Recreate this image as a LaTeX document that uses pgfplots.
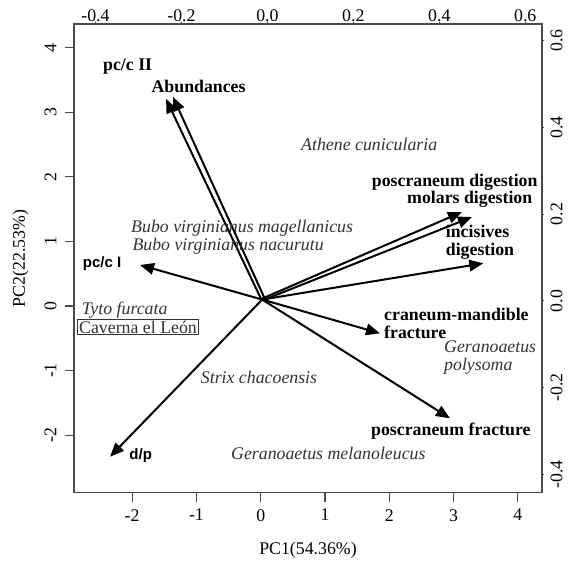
\documentclass[border=0pt]{standalone}
\usepackage{pgfplots}
\pgfplotsset{compat=1.18}
\usepackage{fontspec}
\setmainfont{Liberation Serif}
\setsansfont{Liberation Sans}
\usetikzlibrary{arrows.meta}
\newcommand\lf{\fontsize{17.8bp}{17.7bp}\selectfont}
\newcommand\sflab{\fontsize{15bp}{18bp}\selectfont\sffamily\bfseries}
\definecolor{boxgray}{HTML}{4a4a4a}
\definecolor{txtgray}{HTML}{333333}
\begin{document}
\begin{tikzpicture}
\begin{axis}[name=ax, scale only axis, width=468bp, height=468.7bp,
  xmin=-2.904, xmax=4.375, ymin=-2.891, ymax=4.367, clip=false,
  tick pos=left, tick align=outside, major tick length=9bp,
  xtick={-2,-1,0,1,2,3,4}, xticklabels={-2,-1,0,1,2,3,4},
  ytick={-2,-1,0,1,2,3,4}, yticklabels={-2,-1,0,1,2,3,4},
  xticklabel style={yshift=-4bp},
  yticklabel style={rotate=90, anchor=south, yshift=5bp},
  ticklabel style={font=\lf},
  every tick/.style={boxgray, line width=1.2bp},
  axis line style={boxgray, line width=1.4bp},
  xlabel={PC1(54.36\%)}, ylabel={PC2(22.53\%)},
  xlabel style={yshift=-14bp}, ylabel style={yshift=9bp},
  label style={font=\lf},
  arr/.style={black, line width=2bp, -{Triangle[length=14bp,width=11.5bp]}},
]
% arrows (origin at loading 0,0)
\addplot[arr] coordinates {(0.010,0.100) (-1.473,3.206)};
\addplot[arr] coordinates {(0.065,0.110) (-1.364,3.237)};
\addplot[arr] coordinates {(0.023,0.100) (-1.877,0.635)};
\addplot[arr] coordinates {(0.023,0.115) (3.130,1.456)};
\addplot[arr] coordinates {(0.023,0.085) (3.286,1.378)};
\addplot[arr] coordinates {(0.023,0.100) (3.462,0.661)};
\addplot[arr] coordinates {(0.023,0.100) (1.855,-0.423)};
\addplot[arr] coordinates {(0.023,0.100) (2.944,-1.739)};
\addplot[arr] coordinates {(0.023,0.100) (-2.344,-2.334)};
% variable labels
\node[anchor=west, inner sep=0, font=\lf\bfseries] at (axis cs:-2.453,3.701) {pc/c II};
\node[anchor=west, inner sep=0, font=\lf\bfseries] at (axis cs:-1.700,3.396) {Abundances};
\node[anchor=west, inner sep=0, font=\lf\bfseries] at (axis cs:1.726,1.910) {poscraneum digestion};
\node[anchor=west, inner sep=0, font=\lf\bfseries] at (axis cs:2.275,1.652) {molars digestion};
\node[anchor=west, inner sep=0, font=\lf\bfseries, align=left] at (axis cs:2.877,0.985) {incisives\\digestion};
\node[anchor=west, inner sep=0, font=\sflab] at (axis cs:-2.768,0.650) {pc/c I};
\node[anchor=west, inner sep=0, font=\sflab] at (axis cs:-2.044,-2.323) {d/p};
\node[anchor=west, inner sep=0, font=\lf\bfseries, align=left] at (axis cs:1.918,-0.268) {craneum-mandible\\fracture};
\node[anchor=west, inner sep=0, font=\lf\bfseries] at (axis cs:1.715,-1.936) {poscraneum fracture};
% species labels
\node[anchor=west, inner sep=0, font=\lf\itshape, txtgray] at (axis cs:0.627,2.509) {Athene cunicularia};
\node[anchor=west, inner sep=0, font=\lf\itshape, txtgray] at (axis cs:-2.017,1.203) {Bubo virginianus magellanicus};
\node[anchor=west, inner sep=0, font=\lf\itshape, txtgray] at (axis cs:-1.997,0.929) {Bubo virginianus nacurutu};
\node[anchor=west, inner sep=0, font=\lf\itshape, txtgray] at (axis cs:-2.784,-0.062) {Tyto furcata};
\node[anchor=west, draw, line width=1.1bp, inner sep=1.3bp, font=\lf, txtgray] at (axis cs:-2.852,-0.325) {Caverna el León};
\node[anchor=west, inner sep=0, font=\lf\itshape, txtgray] at (axis cs:-0.933,-1.104) {Strix chacoensis};
\node[anchor=west, inner sep=0, font=\lf\itshape, txtgray] at (axis cs:-0.462,-2.281) {Geranoaetus melanoleucus};
\node[anchor=west, inner sep=0, font=\lf\itshape, txtgray, align=left] at (axis cs:2.851,-0.800) {Geranoaetus\\polysoma};
\end{axis}
\begin{axis}[scale only axis, width=468bp, height=468.7bp,
  xmin=-0.450, xmax=0.639, ymin=-0.442, ymax=0.638,
  axis x line*=top, axis y line*=right,
  tick align=outside, major tick length=2bp,
  xtick={-0.4,-0.2,0,0.2,0.4,0.6}, xticklabels={-0.4,-0.2,0.0,0.2,0.4,0.6},
  ytick={-0.4,-0.2,0,0.2,0.4,0.6}, yticklabels={-0.4,-0.2,0.0,0.2,0.4,0.6},
  xticklabel style={yshift=-3bp},
  yticklabel style={rotate=90, anchor=north, yshift=-3bp},
  ticklabel style={font=\lf},
  every tick/.style={red, line width=0.8bp},
  axis line style={boxgray, line width=1.4bp, -},
]
\end{axis}
\pgfresetboundingbox
\path[use as bounding box] ([shift={(-74bp,-68.3bp)}]ax.south west) rectangle ([shift={(30bp,24bp)}]ax.north east);
\end{tikzpicture}
\end{document}
